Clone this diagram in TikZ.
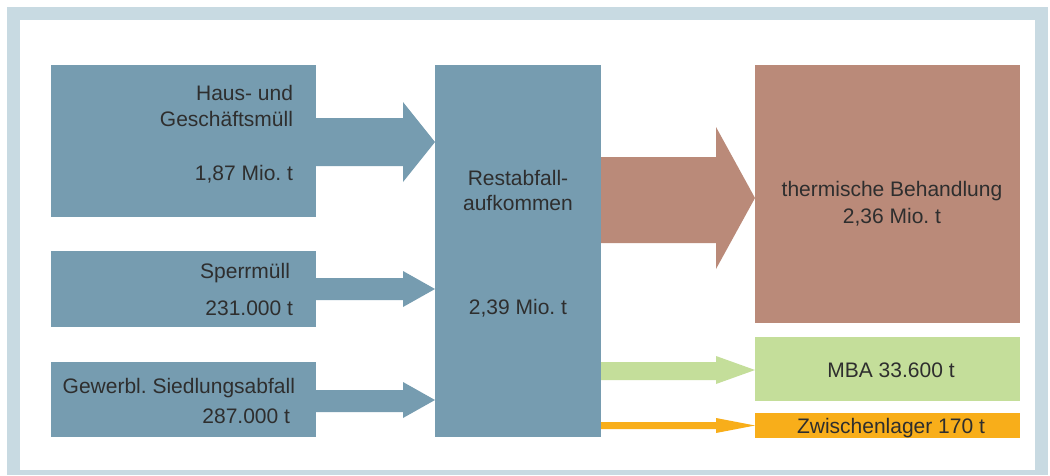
\documentclass[tikz,border=0pt]{standalone}
\usepackage{fontspec}
\setmainfont{Liberation Sans}
\frenchspacing
\definecolor{frameC}{HTML}{C8DAE2}
\definecolor{blueC}{HTML}{769CB0}
\definecolor{brownC}{HTML}{BA8A79}
\definecolor{greenC}{HTML}{C4DE9A}
\definecolor{orangeC}{HTML}{F8AE1A}
\definecolor{txt}{HTML}{2E2E2E}
\begin{document}
\begin{tikzpicture}[x=1pt,y=-1pt,
  box/.style={rectangle, inner sep=0pt, outer sep=0pt, anchor=north west},
  lbl/.style={inner sep=0pt, outer sep=0pt, text=txt, font=\fontsize{21}{25}\selectfont\frenchspacing},
  lr/.style={lbl, anchor=base east},
  lc/.style={lbl, anchor=base}]
\useasboundingbox (0,0) rectangle (1050,475);
\fill[frameC] (7,7) rectangle (1048,475);
\fill[white] (20,20) rectangle (1035,470);
% boxes
\node[box, fill=blueC, minimum width=265pt, minimum height=152pt] (haus) at (51,65) {};
\node[box, fill=blueC, minimum width=265pt, minimum height=76pt] (sperr) at (51,251) {};
\node[box, fill=blueC, minimum width=265pt, minimum height=75pt] (gew) at (51,362) {};
\node[box, fill=blueC, minimum width=166pt, minimum height=372pt] (center) at (435,65) {};
\node[box, fill=brownC, minimum width=265pt, minimum height=258pt] (therm) at (755,65) {};
\node[box, fill=greenC, minimum width=265pt, minimum height=64pt] (mba) at (755,337) {};
\node[box, fill=orangeC, minimum width=265pt, minimum height=25pt] (zw) at (755,413) {};
% arrows
\fill[blueC] (haus.east |- 0,118) -- (403,118) -- (403,102) -- (center.west |- 0,142) -- (403,182) -- (403,166) -- (haus.east |- 0,166) -- cycle;
\fill[blueC] (sperr.east |- 0,278) -- (403,278) -- (403,271) -- (center.west |- 0,289) -- (403,307) -- (403,300) -- (sperr.east |- 0,300) -- cycle;
\fill[blueC] (gew.east |- 0,390) -- (403,390) -- (403,382) -- (center.west |- 0,400) -- (403,418) -- (403,412) -- (gew.east |- 0,412) -- cycle;
\fill[brownC] (center.east |- 0,157) -- (716,157) -- (716,127) -- (therm.west |- 0,198) -- (716,269) -- (716,243) -- (center.east |- 0,243) -- cycle;
\fill[greenC] (center.east |- 0,362) -- (716,362) -- (716,356) -- (mba.west |- 0,370) -- (716,384) -- (716,380) -- (center.east |- 0,380) -- cycle;
\fill[orangeC] (center.east |- 0,422) -- (716,422) -- (716,418) -- (zw.west |- 0,425.5) -- (716,433) -- (716,429) -- (center.east |- 0,429) -- cycle;
% labels
\node[lr] (t1) at (293,100) {Haus- und};
\node[lr] (t2) at (293,126) {Geschäftsmüll};
\node[lr] (t3) at (293,180) {1,87 Mio. t};
\node[lr] (t4) at (290,278) {Sperrmüll};
\node[lr] (t5) at (293,315) {231.000 t};
\node[lr] (t6) at (295,393) {Gewerbl. Siedlungsabfall};
\node[lr] (t7) at (290,423) {287.000 t};
\node[lc] (t8) at (518,185) {Restabfall-};
\node[lc] (t9) at (518,210) {aufkommen};
\node[lc] (t10) at (518,314) {2,39 Mio. t};
\node[lc] (t11) at (892,196) {thermische Behandlung};
\node[lc] (t12) at (892,223) {2,36 Mio. t};
\node[lc] (t13) at (891,377) {MBA 33.600 t};
\node[lc] (t14) at (891,433) {Zwischenlager 170 t};
\end{tikzpicture}
\end{document}
